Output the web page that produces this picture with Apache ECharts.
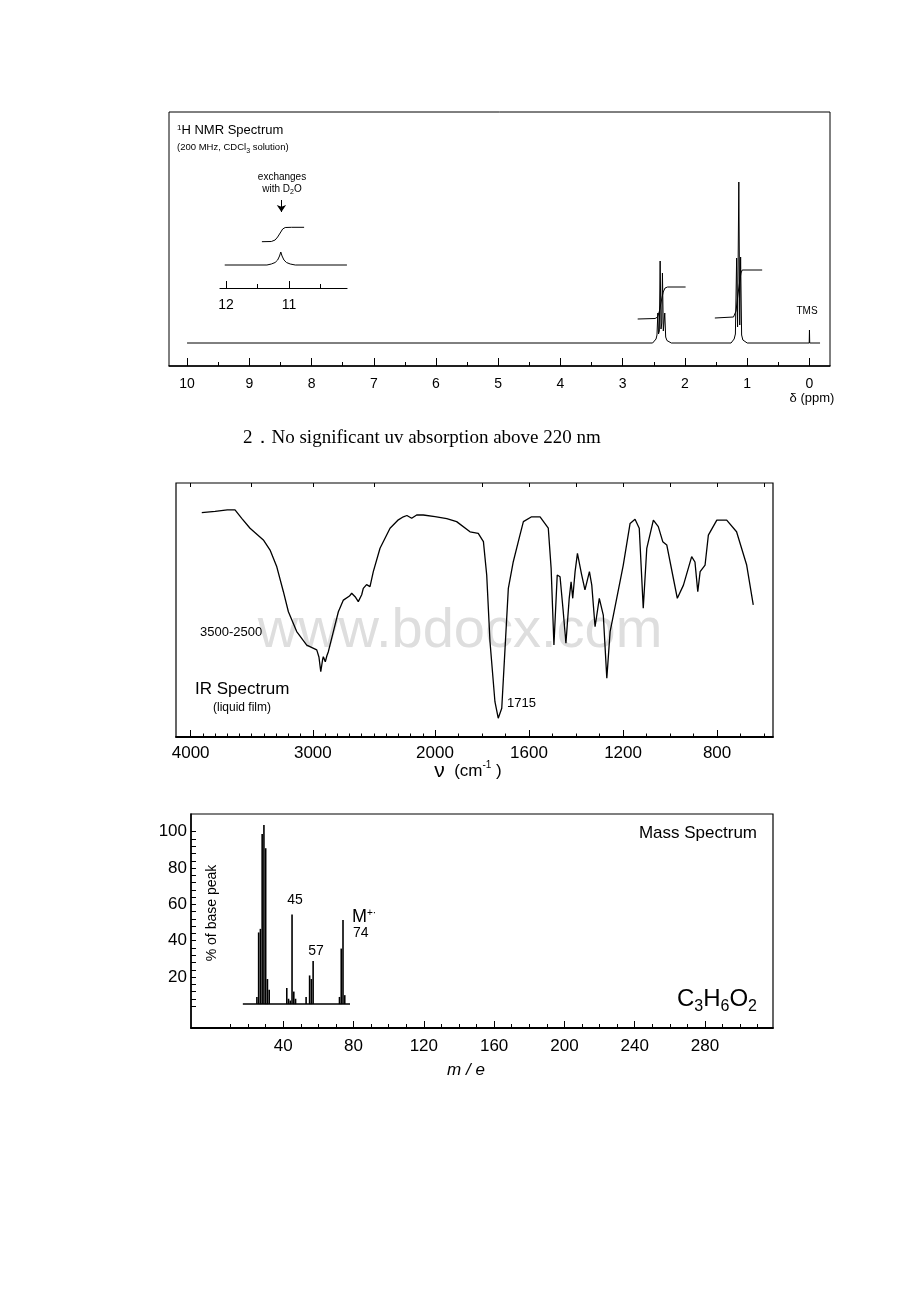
<!DOCTYPE html>
<html><head><meta charset="utf-8">
<script src="https://cdn.jsdelivr.net/npm/echarts@6/dist/echarts.min.js"></script>
<style>html,body{margin:0;padding:0;background:#fff}#c{width:920px;height:1302px}</style>
</head><body><div id="c"></div>
<script>
// ---------- 1H NMR ----------
const nmrMajorTicks = [0,1,2,3,4,5,6,7,8,9,10];
const nmrMinorTicks = [0.5,1.5,2.5,3.5,4.5,5.5,6.5,7.5,8.5,9.5];
// [ppm, intensity]
const nmrSpectrum = [[10.0,0],[2.52,0],[2.49,1.5],[2.465,4],[2.45,8],[2.436,30],[2.425,9],[2.412,12],[2.399,82],[2.385,14],[2.373,20],[2.362,70],[2.348,12],[2.336,14],[2.325,30],[2.31,6],[2.29,2.5],[2.26,1],[2.22,0],[1.26,0],[1.23,1.5],[1.21,4],[1.19,9],[1.17,85],[1.155,16],[1.135,161],[1.12,18],[1.106,86],[1.09,8],[1.07,3],[1.04,1],[1.0,0],[0.004,0],[0.0,13],[-0.004,0],[-0.17,0]];
const nmrIntegralCH2 = [[2.76,24],[2.48,24.5],[2.44,26],[2.41,32],[2.38,42],[2.35,51],[2.32,55],[2.28,56],[1.99,56]];
const nmrIntegralCH3 = [[1.52,25],[1.22,26],[1.18,32],[1.15,48],[1.12,62],[1.10,70],[1.08,73],[0.76,73]];
const insetMajorTicks = [12,11];
const insetMinorTicks = [11.5,10.5];
const insetSpectrum = [[12.02,0],[11.35,0],[11.28,1],[11.22,2.5],[11.18,5],[11.15,9],[11.13,13],[11.11,9],[11.08,5],[11.04,2.5],[10.98,1],[10.9,0],[10.08,0]];
const insetIntegral = [[11.43,23.3],[11.28,23.5],[11.22,25],[11.18,28],[11.14,32],[11.10,36],[11.06,37.5],[10.96,37.7],[10.76,37.7]];

// ---------- IR ----------
const irHighLabels = [4000,3000,2000];
const irHighMinorTicks = [2100,2200,2300,2400,2500,2600,2700,2800,2900,3100,3200,3300,3400,3500,3600,3700,3800,3900];
const irHighTopTicks = [2500,3000,3500,4000];
const irLowLabels = [1600,1200,800];
const irLowMinorTicks = [600,700,900,1000,1100,1300,1400,1500,1700,1800,1900];
const irLowTopTicks = [600,800,1000,1200,1400,1600,1800];
// [wavenumber, %T]
const irHigh = [[3909,88.3],[3800,88.8],[3700,89.4],[3637,89.4],[3582,86.1],[3514,82.2],[3405,77.6],[3350,73.6],[3295,67.0],[3241,57.2],[3200,49.3],[3132,41.5],[3050,36.2],[2968,34.3],[2950,31.5],[2935,25.7],[2920,30.5],[2914,31.6],[2905,30.5],[2898,29.6],[2885,32],[2873,33.6],[2832,41.5],[2791,49.3],[2750,53.9],[2700,55.5],[2682,56.6],[2650,55],[2628,53.3],[2600,56],[2587,58.5],[2560,60],[2546,60.5],[2532,59.2],[2505,65.1],[2450,74.3],[2368,82.2],[2300,85.5],[2259,86.7],[2230,87.2],[2191,86.1],[2150,87.4],[2096,87.4],[2000,86.8]];
const irLow = [[2000,86.8],[1950,86],[1908,84.8],[1851,80.8],[1816,80.2],[1794,76.9],[1780,63.8],[1766,37.5],[1745,13.9],[1731,7.4],[1716,11.3],[1702,34.9],[1688,58.5],[1667,69.0],[1640,79],[1624,84.8],[1589,86.7],[1553,86.7],[1518,82.2],[1506,66.5],[1494,36.2],[1480,63.8],[1468,63.1],[1455,50],[1443,36.9],[1429,54.6],[1421,61.1],[1414,54.6],[1404,65.1],[1394,72.3],[1376,63.8],[1362,57.9],[1343,65.1],[1333,59.8],[1319,43.4],[1301,54.6],[1284,48.0],[1269,23.1],[1255,41.5],[1241,48.0],[1199,67.7],[1170,84.1],[1149,85.7],[1131,82.2],[1114,50.7],[1099,74.3],[1071,85.4],[1050,82.8],[1031,76.9],[1014,75.6],[986,62.5],[969,54.6],[943,59.8],[908,71.0],[894,68.9],[882,57.2],[872,65.1],[851,67.7],[837,79.5],[801,85.4],[759,85.4],[717,80.8],[674,67.7],[646,52.0]];

// ---------- Mass spectrum ----------
const msMz =        [25,26,27,28, 29, 30,31,32,42,43,44,45,46,47,53,55,56,57,72,73,74,75];
const msIntensity = [ 4,40,42,95,100, 87,14, 8, 9, 3, 2,50, 7, 3, 4,16,14,24, 4,31,47, 5];
const msXTicks = [10,20,30,50,60,70,90,100,110,130,140,150,170,180,190,210,220,230,250,260,270,290,300,310];
const msXLabels = [40,80,120,160,200,240,280];
const msYTicks = [4,8,12,16,24,28,32,36,44,48,52,56,64,68,72,76,84,88,92,96];
const msYLabels = [20,40,60,80,100];
const msBaseline = [[17,0],[78,0]];

const FF = 'Liberation Sans, Arial, Helvetica, sans-serif';
const K = '#000';
const plain = (v) => String(v);

function txt(x, y, text, size, extra) {
  return Object.assign({
    type: 'text', x: x, y: y, z: 10,
    style: Object.assign({ text: text, fontSize: size, fontFamily: FF, fill: K,
      textAlign: 'left', textVerticalAlign: 'middle' }, (extra && extra.style) || {})
  }, (extra && extra.el) || {});
}
// rich styles: main token + subscript token
function mainTok(size) { return { fontSize: size, lineHeight: size, fontFamily: FF, fill: K, verticalAlign: 'top' }; }
function subTok(size, drop) { return { fontSize: size, lineHeight: size, fontFamily: FF, fill: K, verticalAlign: 'top', padding: [drop, 0, 0, 0] }; }
function supTok(size) { return { fontSize: size, lineHeight: size, fontFamily: FF, fill: K, verticalAlign: 'top' }; }

function tickAxis(grid, min, max, inverse, ticks, len, pos) {
  return { gridIndex: grid, type: 'value', min: min, max: max, inverse: inverse, position: pos || 'bottom',
    axisLine: { show: false, onZero: false }, splitLine: { show: false }, axisLabel: { show: false },
    axisTick: { show: true, inside: true, length: len, customValues: ticks, lineStyle: { color: K, width: 1 } } };
}
function mainAxis(grid, min, max, inverse, ticks, labels, len, fs, margin, lw) {
  return { gridIndex: grid, type: 'value', min: min, max: max, inverse: inverse, position: 'bottom',
    axisLine: { show: true, onZero: false, lineStyle: { color: K, width: lw || 1.2 } },
    splitLine: { show: false },
    axisTick: { show: true, inside: true, length: len, customValues: ticks, lineStyle: { color: K, width: 1 } },
    axisLabel: { show: true, customValues: labels, formatter: plain, fontSize: fs, fontFamily: FF, color: K, margin: margin } };
}
function hiddenY(grid, min, max) {
  return { gridIndex: grid, type: 'value', min: min, max: max, show: false, splitLine: { show: false } };
}
function lineSeries(xi, yi, data, w) {
  return { type: 'line', xAxisIndex: xi, yAxisIndex: yi, data: data, showSymbol: false, symbol: 'none',
    lineStyle: { color: K, width: w || 1 }, silent: true, z: 3 };
}

const chart = echarts.init(document.getElementById('c'), null, { renderer: 'canvas' });
chart.setOption({
  animation: false,
  backgroundColor: '#fff',
  grid: [
    { left: 169, top: 112, width: 661, height: 254, show: true, borderColor: K, borderWidth: 1 },
    { left: 220, top: 170, width: 127, height: 118 },
    { left: 176, top: 483, width: 259, height: 254 },
    { left: 435, top: 483, width: 338, height: 254 },
    { left: 176, top: 483, width: 597, height: 254, show: true, borderColor: K, borderWidth: 1.2 },
    { left: 191, top: 814, width: 582, height: 214, show: true, borderColor: K, borderWidth: 1.2 }
  ],
  xAxis: [
    mainAxis(0, -0.33, 10.29, true, nmrMajorTicks, nmrMajorTicks, 8, 14, 11, 1.5),
    tickAxis(0, -0.33, 10.29, true, nmrMinorTicks, 4),
    mainAxis(1, 10.079, 12.095, true, insetMajorTicks, insetMajorTicks, 7, 14, 10, 1.2),
    tickAxis(1, 10.079, 12.095, true, insetMinorTicks, 4),
    mainAxis(2, 2000, 4120, true, irHighLabels, irHighLabels, 7, 17, 8, 1.8),
    tickAxis(2, 2000, 4120, true, irHighMinorTicks, 3.5),
    tickAxis(2, 2000, 4120, true, irHighTopTicks, 4, 'top'),
    mainAxis(3, 562, 2000, true, irLowLabels, irLowLabels, 7, 17, 8, 1.8),
    tickAxis(3, 562, 2000, true, irLowMinorTicks, 3.5),
    tickAxis(3, 562, 2000, true, irLowTopTicks, 4, 'top'),
    { gridIndex: 4, type: 'value', show: false, min: 0, max: 1 },
    mainAxis(5, -12.5, 318.7, false, msXTicks, msXLabels, 4, 17, 10, 1.8),
    tickAxis(5, -12.5, 318.7, false, msXLabels, 7)
  ],
  yAxis: [
    hiddenY(0, -23, 231),
    hiddenY(1, -23, 95),
    hiddenY(2, 0, 100),
    hiddenY(3, 0, 100),
    hiddenY(4, 0, 1),
    { gridIndex: 5, type: 'value', min: -8.05, max: 109.75, position: 'left',
      axisLine: { show: true, onZero: false, lineStyle: { color: K, width: 1.5 } },
      splitLine: { show: false },
      axisTick: { show: true, inside: true, length: 5, customValues: msYTicks.concat(msYLabels), lineStyle: { color: K } },
      axisLabel: { show: true, customValues: msYLabels, formatter: plain, fontSize: 17, fontFamily: FF, color: K, margin: 4 } },
    hiddenY(5, -13.33, 106.1)
  ],
  series: [
    lineSeries(0, 0, nmrSpectrum, 1),
    lineSeries(0, 0, nmrIntegralCH2, 1),
    lineSeries(0, 0, nmrIntegralCH3, 1),
    Object.assign(lineSeries(2, 1, insetSpectrum, 1), {
      markLine: { silent: true, symbol: ['none', 'arrow'], symbolSize: 7, animation: false,
        label: { show: false }, lineStyle: { color: K, width: 1, type: 'solid' },
        data: [[{ coord: [11.12, 65] }, { coord: [11.12, 53] }]] }
    }),
    lineSeries(2, 1, insetIntegral, 1),
    lineSeries(4, 2, irHigh, 1.3),
    lineSeries(7, 3, irLow, 1.3),
    { type: 'bar', xAxisIndex: 11, yAxisIndex: 6, barWidth: 1.6, silent: true,
      itemStyle: { color: K }, data: msMz.map((m, i) => [m, msIntensity[i]]), z: 3 },
    lineSeries(11, 6, msBaseline, 1.5)
  ],
  graphic: [
    // watermark
    { type: 'text', x: 460, y: 632, z: 0, silent: true,
      style: { text: 'www.bdocx.com', fontSize: 56, fontFamily: FF, fill: '#dedede', textAlign: 'center', textVerticalAlign: 'middle' } },
    // NMR texts
    txt(177, 130, '', 13, { style: { text: '{s|1}{m|H NMR Spectrum}', rich: { s: supTok(8), m: mainTok(13) } } }),
    txt(177, 147, '', 9.5, { style: { text: '{a|(200 MHz, CDCl}{b|3}{a| solution)}', rich: { a: mainTok(9.5), b: subTok(7, 5) } } }),
    txt(282, 177, 'exchanges', 10, { style: { textAlign: 'center' } }),
    txt(282, 189, '', 10, { style: { textAlign: 'center', text: '{a|with D}{b|2}{a|O}', rich: { a: mainTok(10), b: subTok(7, 5) } } }),
    txt(807, 311, 'TMS', 10, { style: { textAlign: 'center' } }),
    txt(812, 398, 'δ (ppm)', 13, { style: { textAlign: 'center' } }),
    // heading line
    txt(243, 438, '2．No significant uv absorption above 220 nm', 19, { style: { fontFamily: 'Liberation Serif, Times New Roman, serif' } }),
    // IR texts
    txt(200, 632, '3500-2500', 13),
    txt(195, 689, 'IR Spectrum', 17),
    txt(213, 708, '(liquid film)', 12),
    txt(507, 703, '1715', 13),
    txt(468, 771, '', 17, { style: { textAlign: 'center', text: '{n|ν}{p|  (cm}{u|-1}{p| )}', rich: { n: { fontSize: 21, fontFamily: FF, fill: K }, p: { fontSize: 17, fontFamily: FF, fill: K }, u: { fontSize: 10, fontFamily: FF, fill: K, verticalAlign: 'top' } } } }),
    // Mass texts
    txt(757, 833, 'Mass Spectrum', 17, { style: { textAlign: 'right' } }),
    txt(757, 999, '', 24, { style: { textAlign: 'right', text: '{b|C}{s|3}{b|H}{s|6}{b|O}{s|2}', rich: { b: mainTok(24), s: subTok(16, 12) } } }),
    txt(212, 913, '% of base peak', 14, { style: { textAlign: 'center' }, el: { rotation: Math.PI / 2 } }),
    txt(295, 900, '45', 14, { style: { textAlign: 'center' } }),
    txt(316, 951, '57', 14, { style: { textAlign: 'center' } }),
    txt(352, 917, '', 18, { style: { text: '{m|M}{s|+·}', rich: { m: { fontSize: 18, fontFamily: FF, fill: K }, s: { fontSize: 10, fontFamily: FF, fill: K, verticalAlign: 'top' } } } }),
    txt(353, 933, '74', 14),
    txt(466, 1070, 'm / e', 17, { style: { textAlign: 'center', fontStyle: 'italic' } })
  ]
});
</script>
</body></html>
